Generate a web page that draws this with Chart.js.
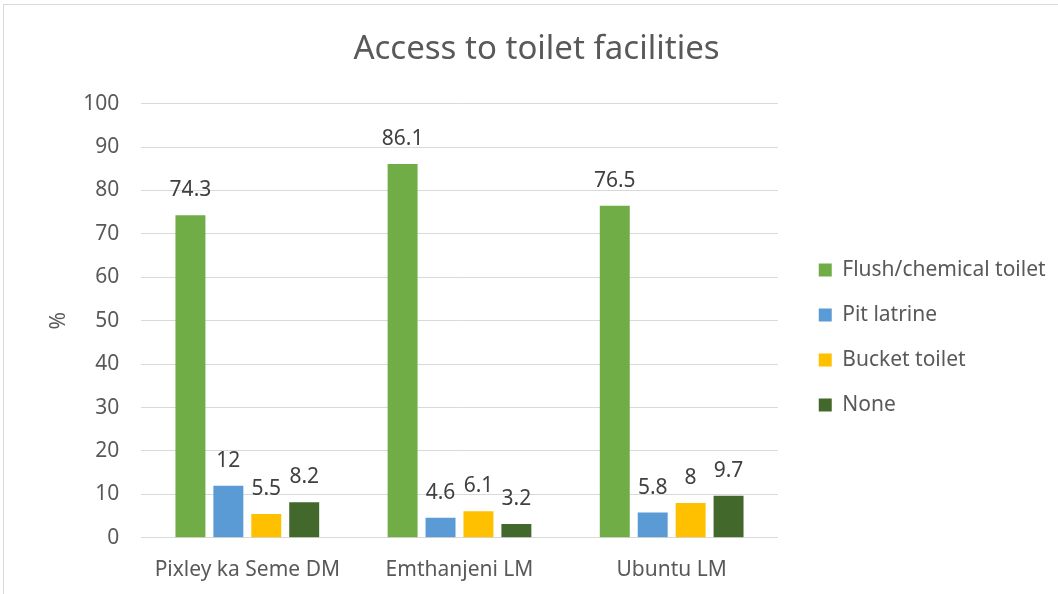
<!DOCTYPE html>
<html>
<head>
<meta charset="utf-8">
<script src="https://cdn.jsdelivr.net/npm/chart.js@4"></script>
<style>
  html, body { margin: 0; padding: 0; background: #fff; }
  #frame { position: absolute; left: 3px; top: 4px; width: 1060px; height: 600px; border: 1px solid #d9d9d9; box-sizing: border-box; }
  #wrap { position: absolute; left: 0; top: 0; width: 1058px; height: 594px; }
</style>
</head>
<body>
<div id="frame"></div>
<div id="wrap"><canvas id="chart"></canvas></div>
<script>
const categories = ['Pixley ka Seme DM', 'Emthanjeni LM', 'Ubuntu LM'];
const flush = [74.3, 86.1, 76.5];
const pit = [12, 4.6, 5.8];
const bucket = [5.5, 6.1, 8];
const none = [8.2, 3.2, 9.7];
const yTicks = [0, 10, 20, 30, 40, 50, 60, 70, 80, 90, 100];

const FONT = '"Noto Sans", sans-serif';
const LEGEND_GAP = 17;

// draws the value above each bar
const valueLabels = {
  id: 'valueLabels',
  afterDatasetsDraw(chart) {
    const ctx = chart.ctx;
    ctx.save();
    ctx.font = '21px ' + FONT;
    ctx.fillStyle = '#404040';
    ctx.textAlign = 'center';
    ctx.textBaseline = 'middle';
    chart.data.datasets.forEach((ds, i) => {
      chart.getDatasetMeta(i).data.forEach((bar, j) => {
        ctx.fillText(String(ds.data[j]), bar.x, bar.y - 25);
      });
    });
    ctx.restore();
  }
};

// leaves some empty room between the plot and the legend
const legendGap = {
  id: 'legendGap',
  beforeLayout(chart) {
    const legend = chart.legend;
    if (!legend || legend._gapPatched) return;
    legend._gapPatched = true;
    const fit = legend.fit;
    legend.fit = function () {
      fit.call(this);
      this.width += LEGEND_GAP;
    };
    const draw = legend.draw;
    legend.draw = function () {
      this.ctx.save();
      this.ctx.translate(LEGEND_GAP, 0);
      draw.call(this);
      this.ctx.restore();
    };
  }
};

function make_dataset(label, data, color) {
  return {
    label: label,
    data: data,
    backgroundColor: color,
    borderWidth: 0,
    categoryPercentage: 0.715,
    barPercentage: 0.79
  };
}

new Chart(document.getElementById('chart'), {
  type: 'bar',
  data: {
    labels: categories,
    datasets: [
      make_dataset('Flush/chemical toilet', flush, '#70AD47'),
      make_dataset('Pit latrine', pit, '#5B9BD5'),
      make_dataset('Bucket toilet', bucket, '#FFC000'),
      make_dataset('None', none, '#43682B')
    ]
  },
  options: {
    responsive: true,
    maintainAspectRatio: false,
    animation: false,
    layout: { padding: { left: 20, right: 5, top: 0, bottom: -1 } },
    plugins: {
      title: {
        display: true,
        text: 'Access to toilet facilities',
        color: '#595959',
        font: { family: FONT, size: 33, weight: 'normal' },
        padding: { top: 30, bottom: 34 }
      },
      legend: {
        position: 'right',
        // empty title only pushes the items down
        title: { display: true, text: ' ', font: { size: 10 }, padding: { top: 68, bottom: 0 } },
        labels: {
          color: '#595959',
          font: { family: FONT, size: 21 },
          boxWidth: 13,
          boxHeight: 13,
          padding: 24
        }
      },
      tooltip: { enabled: false }
    },
    scales: {
      x: {
        grid: { display: false },
        border: { display: false },
        ticks: { color: '#595959', font: { family: FONT, size: 21 }, padding: 12 }
      },
      y: {
        min: 0,
        max: 100,
        afterBuildTicks(axis) { axis.ticks = yTicks.map(v => ({ value: v })); },
        grid: { color: '#d9d9d9', drawTicks: false },
        border: { display: false },
        ticks: { color: '#595959', font: { family: FONT, size: 21 }, padding: 22 },
        title: { display: true, text: '%', color: '#595959', font: { family: FONT, size: 21 }, padding: { top: 26, bottom: -10 } }
      }
    }
  },
  plugins: [valueLabels, legendGap]
});
</script>
</body>
</html>
